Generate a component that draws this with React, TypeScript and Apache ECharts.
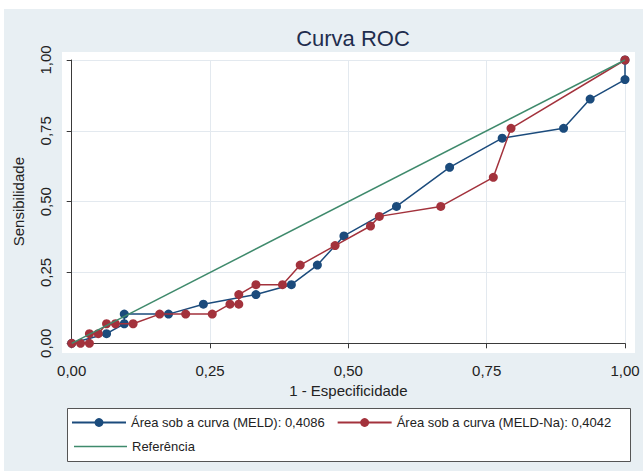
import React, { useEffect, useRef } from "react";
import * as echarts from "echarts";

const FONT = "'Liberation Sans', Arial, Helvetica, sans-serif";

const meldName = "Área sob a curva (MELD): 0,4086";
const naName = "Área sob a curva (MELD-Na): 0,4042";
const refName = "Referência";

const meldX = [0, 0.063, 0.095, 0.095, 0.175, 0.238, 0.333, 0.397, 0.444, 0.492, 0.587, 0.683, 0.778, 0.889, 0.937, 1, 1];
const meldY = [0, 0.034, 0.069, 0.103, 0.103, 0.138, 0.172, 0.207, 0.276, 0.379, 0.483, 0.621, 0.724, 0.759, 0.862, 0.931, 1];

const naX = [0, 0.016, 0.032, 0.032, 0.048, 0.063, 0.079, 0.111, 0.159, 0.206, 0.254, 0.286, 0.302, 0.302, 0.333, 0.381, 0.413, 0.476, 0.54, 0.556, 0.667, 0.762, 0.794, 1];
const naY = [0, 0, 0, 0.034, 0.034, 0.069, 0.069, 0.069, 0.103, 0.103, 0.103, 0.138, 0.138, 0.172, 0.207, 0.207, 0.276, 0.345, 0.414, 0.448, 0.483, 0.586, 0.759, 1];

const refX = [0, 1];
const refY = [0, 1];

const BLUE = "#1b4b7c";
const RED = "#a3323c";
const GREEN = "#3f8a6c";

const zip = (xs: number[], ys: number[]) => xs.map((x, i) => [x, ys[i]]);
const fmt = (v: number) => v.toFixed(2).replace(".", ",");

export default function App() {
  const ref = useRef<HTMLDivElement>(null);
  useEffect(() => {
    if (!ref.current) return;
    const chart = echarts.init(ref.current, null, { renderer: "svg" });
    const axisCommon = {
      type: "value" as const,
      min: 0,
      max: 1,
      interval: 0.25,
      offset: 10,
      axisLine: { show: true, lineStyle: { color: "#3a3a3a", width: 1 } },
      axisTick: { show: true, length: 5, lineStyle: { color: "#3a3a3a" } },
      splitLine: { show: true, lineStyle: { color: "#e3e9ef", width: 1 } },
      nameLocation: "middle" as const,
      nameTextStyle: { fontSize: 15, color: "#222", fontFamily: FONT },
    };
    chart.setOption({
      animation: false,
      title: {
        text: "Curva ROC",
        left: 348,
        top: 22,
        textAlign: "center",
        textStyle: { fontSize: 22, fontWeight: "normal", color: "#1f2d4e", fontFamily: FONT },
      },
      graphic: [
        { type: "rect", z: -10, shape: { x: 4, y: 9, width: 639, height: 462 }, style: { fill: "#e8eff3" } },
        { type: "rect", z: -9, shape: { x: 62, y: 52, width: 573, height: 301 }, style: { fill: "#ffffff" } },
        { type: "rect", z: -9, shape: { x: 67.5, y: 408.5, width: 563, height: 53 }, style: { fill: "#ffffff", stroke: "#555555", lineWidth: 1 } },
      ],
      grid: { left: 71.7, right: 18, top: 60, bottom: 132.7 },
      xAxis: {
        ...axisCommon,
        name: "1 - Especificidade",
        nameGap: 29,
        axisLabel: { fontSize: 15, color: "#222", fontFamily: FONT, margin: 10, formatter: (v: number) => fmt(v) },
      },
      yAxis: {
        ...axisCommon,
        name: "Sensibilidade",
        nameGap: 36,
        axisLabel: { fontSize: 15, color: "#222", fontFamily: FONT, margin: 9, rotate: 90, formatter: (v: number) => fmt(v) },
      },
      legend: [
        {
          data: [meldName, naName],
          left: 71,
          top: 416,
          padding: 0,
          itemWidth: 54,
          itemHeight: 11,
          itemGap: 12,
          selectedMode: false,
          textStyle: { fontSize: 13, color: "#222", fontFamily: FONT },
        },
        {
          data: [{ name: refName, icon: "rect" }],
          left: 74,
          top: 440,
          padding: 0,
          itemWidth: 53,
          itemHeight: 1.5,
          selectedMode: false,
          textStyle: { fontSize: 13, color: "#222", fontFamily: FONT },
        },
      ],
      series: [
        {
          name: meldName,
          type: "line",
          data: zip(meldX, meldY),
          symbol: "circle",
          symbolSize: 9,
          clip: false,
          z: 2,
          lineStyle: { color: BLUE, width: 1.5 },
          itemStyle: { color: BLUE },
          emphasis: { disabled: true },
        },
        {
          name: naName,
          type: "line",
          data: zip(naX, naY),
          symbol: "circle",
          symbolSize: 9,
          clip: false,
          z: 3,
          lineStyle: { color: RED, width: 1.5 },
          itemStyle: { color: RED },
          emphasis: { disabled: true },
        },
        {
          name: refName,
          type: "line",
          data: zip(refX, refY),
          symbol: "none",
          clip: false,
          z: 4,
          lineStyle: { color: GREEN, width: 1.5 },
          itemStyle: { color: GREEN },
          emphasis: { disabled: true },
        },
      ],
    });
    return () => chart.dispose();
  }, []);
  return (
    <div
      ref={ref}
      style={{ position: "fixed", left: 0, top: 0, width: 643, height: 476, background: "#ffffff" }}
    />
  );
}
